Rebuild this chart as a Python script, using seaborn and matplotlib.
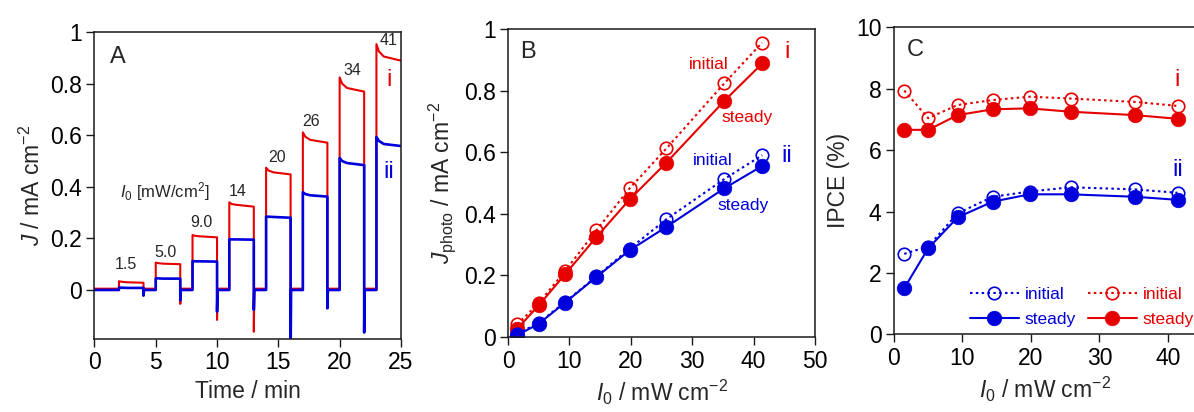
import matplotlib
matplotlib.use("Agg")
import matplotlib.pyplot as plt
import numpy as np
import pandas as pd
import seaborn as sns

# ---------------- data ----------------
# Panel A: chopped-light photocurrent transients
light_on = [2, 5, 8, 11, 14, 17, 20, 23]
light_off = [4, 7, 10, 13, 16, 19, 22, 25]
step_labels = ["1.5", "5.0", "9.0", "14", "20", "26", "34", "41"]
# time after switching the light on (min) at which the current was read
decay_times = [0.0, 0.2, 0.6, 2.0]
red_decay = [
    [0.034, 0.032, 0.030, 0.028],
    [0.106, 0.104, 0.102, 0.100],
    [0.213, 0.210, 0.208, 0.204],
    [0.340, 0.333, 0.330, 0.323],
    [0.474, 0.463, 0.456, 0.448],
    [0.611, 0.594, 0.582, 0.571],
    [0.824, 0.800, 0.783, 0.769],
    [0.953, 0.925, 0.905, 0.889],
]
blue_decay = [
    [0.009, 0.009, 0.008, 0.008],
    [0.045, 0.045, 0.044, 0.044],
    [0.112, 0.111, 0.111, 0.110],
    [0.197, 0.196, 0.196, 0.195],
    [0.285, 0.284, 0.283, 0.280],
    [0.379, 0.372, 0.367, 0.362],
    [0.512, 0.500, 0.492, 0.484],
    [0.593, 0.578, 0.566, 0.558],
]
# cathodic spikes when the light is switched off
red_spike = [-0.010, -0.054, -0.116, -0.162, -0.100, -0.030, -0.050, None]
blue_spike = [-0.022, -0.040, -0.084, -0.077, -0.250, -0.071, -0.165, None]
red_dark = 0.005
blue_dark = 0.0

# Panels B and C: light intensity dependence
I0 = [1.5, 5.0, 9.3, 14.4, 19.8, 25.8, 35.2, 41.4]
J_red_initial = [0.041, 0.110, 0.215, 0.347, 0.483, 0.613, 0.824, 0.957]
J_red_steady = [0.027, 0.103, 0.204, 0.325, 0.447, 0.567, 0.767, 0.889]
J_blue_initial = [0.010, 0.046, 0.114, 0.197, 0.287, 0.383, 0.513, 0.591]
J_blue_steady = [0.006, 0.043, 0.112, 0.195, 0.282, 0.358, 0.483, 0.556]

ipce_red_initial = [7.94, 7.04, 7.47, 7.63, 7.74, 7.68, 7.57, 7.44]
ipce_red_steady = [6.66, 6.66, 7.14, 7.33, 7.36, 7.25, 7.14, 7.02]
ipce_blue_initial = [2.62, 2.86, 3.94, 4.48, 4.65, 4.79, 4.72, 4.61]
ipce_blue_steady = [1.50, 2.80, 3.81, 4.32, 4.56, 4.56, 4.48, 4.38]

RED = "#e60000"
BLUE = "#0000dc"

# ---------------- style ----------------
sns.set_theme(style="ticks")
plt.rcParams.update({
    "font.family": ["Liberation Sans", "DejaVu Sans"],
    "mathtext.fontset": "custom",
    "mathtext.rm": "Liberation Sans",
    "mathtext.it": "Liberation Sans:italic",
    "mathtext.bf": "Liberation Sans:bold",
    "axes.edgecolor": "#1a1a1a",
    "axes.linewidth": 1.1,
    "xtick.direction": "out",
    "ytick.direction": "out",
    "xtick.major.size": 5.5,
    "ytick.major.size": 5.5,
    "xtick.major.width": 1.0,
    "ytick.major.width": 1.0,
    "xtick.color": "#1a1a1a",
    "ytick.color": "#1a1a1a",
    "xtick.labelcolor": "black",
    "ytick.labelcolor": "black",
    "xtick.labelsize": 16.5,
    "ytick.labelsize": 16.5,
    "axes.labelsize": 16.5,
})

fig = plt.figure(figsize=(11.94, 4.12), dpi=100)
axA = fig.add_axes([0.0791, 0.1772, 0.2567, 0.7451])
axB = fig.add_axes([0.4255, 0.1820, 0.2571, 0.7468])
axC = fig.add_axes([0.7487, 0.1886, 0.2524, 0.7451])


def build_trace(decay, spikes, dark):
    t, j = [0.0], [dark]
    for k in range(len(light_on)):
        on, off = light_on[k], light_off[k]
        t.append(on); j.append(dark)
        for dt, v in zip(decay_times, decay[k]):
            t.append(min(on + dt, off)); j.append(v)
        if spikes[k] is not None:
            t += [off, off + 0.04]
            j += [spikes[k], dark]
    return pd.DataFrame({"t": t, "J": j})


# ---------------- panel A ----------------
red_tr = build_trace(red_decay, red_spike, red_dark)
blue_tr = build_trace(blue_decay, blue_spike, blue_dark)
sns.lineplot(data=red_tr, x="t", y="J", sort=False, estimator=None,
             color=RED, lw=1.5, ax=axA)
sns.lineplot(data=blue_tr, x="t", y="J", sort=False, estimator=None,
             color=BLUE, lw=1.9, ax=axA)
axA.set_xlim(0, 25)
axA.set_ylim(-0.19, 1.0)
axA.set_xticks([0, 5, 10, 15, 20, 25])
axA.set_yticks([0, 0.2, 0.4, 0.6, 0.8, 1.0])
axA.set_yticklabels(["0", "0.2", "0.4", "0.6", "0.8", "1"])
axA.set_xlabel("Time / min")
axA.set_ylabel(r"$J$ / mA cm$^{-2}$")
axA.text(1.9, 0.905, "A", fontsize=17, ha="center", va="center")
label_pos = [(2.57, 0.10), (5.8, 0.147), (8.74, 0.26), (11.7, 0.381),
             (14.9, 0.515), (17.7, 0.652), (21.0, 0.85), (24.0, 0.969)]
for (x, y), s in zip(label_pos, step_labels):
    axA.text(x, y, s, fontsize=11.5, ha="center", va="center")
axA.text(5.75, 0.38, r"$I_0$ [mW/cm$^2$]", fontsize=12, ha="center", va="center")
axA.text(24.0, 0.814, "i", color=RED, fontsize=17, ha="center", va="center")
axA.text(24.0, 0.458, "ii", color=BLUE, fontsize=17, ha="center", va="center")

# ---------------- panel B ----------------
dot = (0, (1.2, 1.6))
open_kw = dict(marker="o", markersize=9, markerfacecolor="none", markeredgewidth=1.2)
fill_kw = dict(marker="o", markersize=10.5, markeredgewidth=0.5)


def draw_pair(ax, y_init, y_steady, color, label=False):
    sns.lineplot(x=I0, y=y_init, ax=ax, color=color, lw=1.5, linestyle=dot,
                 markeredgecolor=color, legend=False,
                 label="initial" if label else None, **open_kw)
    sns.lineplot(x=I0, y=y_steady, ax=ax, color=color, lw=1.5, linestyle="-",
                 markeredgecolor=color, markerfacecolor=color, legend=False,
                 label="steady" if label else None, **fill_kw)


draw_pair(axB, J_red_initial, J_red_steady, RED)
draw_pair(axB, J_blue_initial, J_blue_steady, BLUE)
axB.set_xlim(0, 50)
axB.set_ylim(0, 1.0)
axB.set_xticks([0, 10, 20, 30, 40, 50])
axB.set_yticks([0, 0.2, 0.4, 0.6, 0.8, 1.0])
axB.set_yticklabels(["0", "0.2", "0.4", "0.6", "0.8", "1"])
axB.set_xlabel(r"$I_0$ / mW cm$^{-2}$")
axB.set_ylabel(r"$J_{\rm photo}$ / mA cm$^{-2}$")
axB.text(3.3, 0.925, "B", fontsize=17, ha="center", va="center")
axB.text(32.7, 0.886, "initial", color=RED, fontsize=12.5, ha="center", va="center")
axB.text(39.0, 0.715, "steady", color=RED, fontsize=12.5, ha="center", va="center")
axB.text(45.4, 0.926, "i", color=RED, fontsize=17, ha="center", va="center")
axB.text(33.4, 0.575, "initial", color=BLUE, fontsize=12.5, ha="center", va="center")
axB.text(38.3, 0.426, "steady", color=BLUE, fontsize=12.5, ha="center", va="center")
axB.text(45.4, 0.589, "ii", color=BLUE, fontsize=17, ha="center", va="center")

# ---------------- panel C ----------------
draw_pair(axC, ipce_blue_initial, ipce_blue_steady, BLUE, label=True)
draw_pair(axC, ipce_red_initial, ipce_red_steady, RED, label=True)
axC.set_xlim(0, 44)
axC.set_ylim(0, 10)
axC.set_xticks([0, 10, 20, 30, 40])
axC.set_yticks([0, 2, 4, 6, 8, 10])
axC.set_xlabel(r"$I_0$ / mW cm$^{-2}$")
axC.set_ylabel("IPCE (%)")
axC.text(3.1, 9.27, "C", fontsize=17, ha="center", va="center")
axC.text(41.4, 8.28, "i", color=RED, fontsize=17, ha="center", va="center")
axC.text(41.4, 5.35, "ii", color=BLUE, fontsize=17, ha="center", va="center")
handles, labels = axC.get_legend_handles_labels()
leg = axC.legend(handles, labels, ncol=2, frameon=False, loc="lower left",
                 bbox_to_anchor=(0.252, 0.025), borderpad=0, borderaxespad=0,
                 fontsize=12.5, handlelength=2.8, handletextpad=0.35,
                 columnspacing=0.7, labelspacing=0.55)
for txt, h in zip(leg.get_texts(), handles):
    txt.set_color(h.get_color())

for ax in (axA, axB, axC):
    for s in ax.spines.values():
        s.set_visible(True)

fig.savefig("out.png", dpi=100)
